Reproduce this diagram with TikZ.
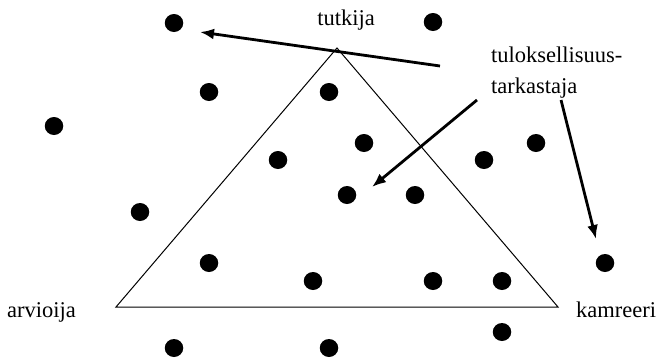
\documentclass[tikz,border=0pt]{standalone}
\usepackage{fontspec}
\setmainfont{Liberation Serif}
\usetikzlibrary{arrows.meta,shapes.geometric}

\begin{document}
\begin{tikzpicture}[x=1pt,y=-1pt,>={Latex[length=14pt,width=11pt]},
  dot/.style={ellipse,fill=black,inner sep=0pt,minimum width=18.5pt,minimum height=18pt},
  lbl/.style={font=\fontsize{22.5}{31}\selectfont,inner sep=0pt,align=left},
  pointer/.style={->,line width=2.8pt}]
\useasboundingbox (0,0) rectangle (658,359);
% triangle
\coordinate (apex) at (337,48);
\coordinate (left) at (116,307);
\coordinate (right) at (558,307);
\draw[line width=1pt] (apex) -- (left) -- (right) -- cycle;
% dots
\foreach \x/\y [count=\i] in {174/23,433/22,209/92,329/92,54/126,364/143,278/160,
    536/143,484/160,347/195,415/195,140/212,209/263,313/281,433/281,502/281,
    605/263,502/332,174/348,329/348}
  \node[dot] (d\i) at (\x,\y) {};
% labels
\node[lbl,anchor=base] (tutkija) at (346,25) {tutkija};
\node[lbl,anchor=base west] (arvioija) at (7,317) {arvioija};
\node[lbl,anchor=base west] (kamreeri) at (576,317) {kamreeri};
\node[lbl,anchor=base west] (tulos) at (491,93) {tuloksellisuus-\\tarkastaja};
% arrows
\coordinate (a1) at (440,66);
\coordinate (b1) at (200,32);
\coordinate (a2) at (477,100);
\coordinate (b2) at (372,187);
\coordinate (a3) at (561,100);
\coordinate (b3) at (596,239);
\draw[pointer] (a1) -- (b1);
\draw[pointer] (a2) -- (b2);
\draw[pointer] (a3) -- (b3);
\end{tikzpicture}
\end{document}
